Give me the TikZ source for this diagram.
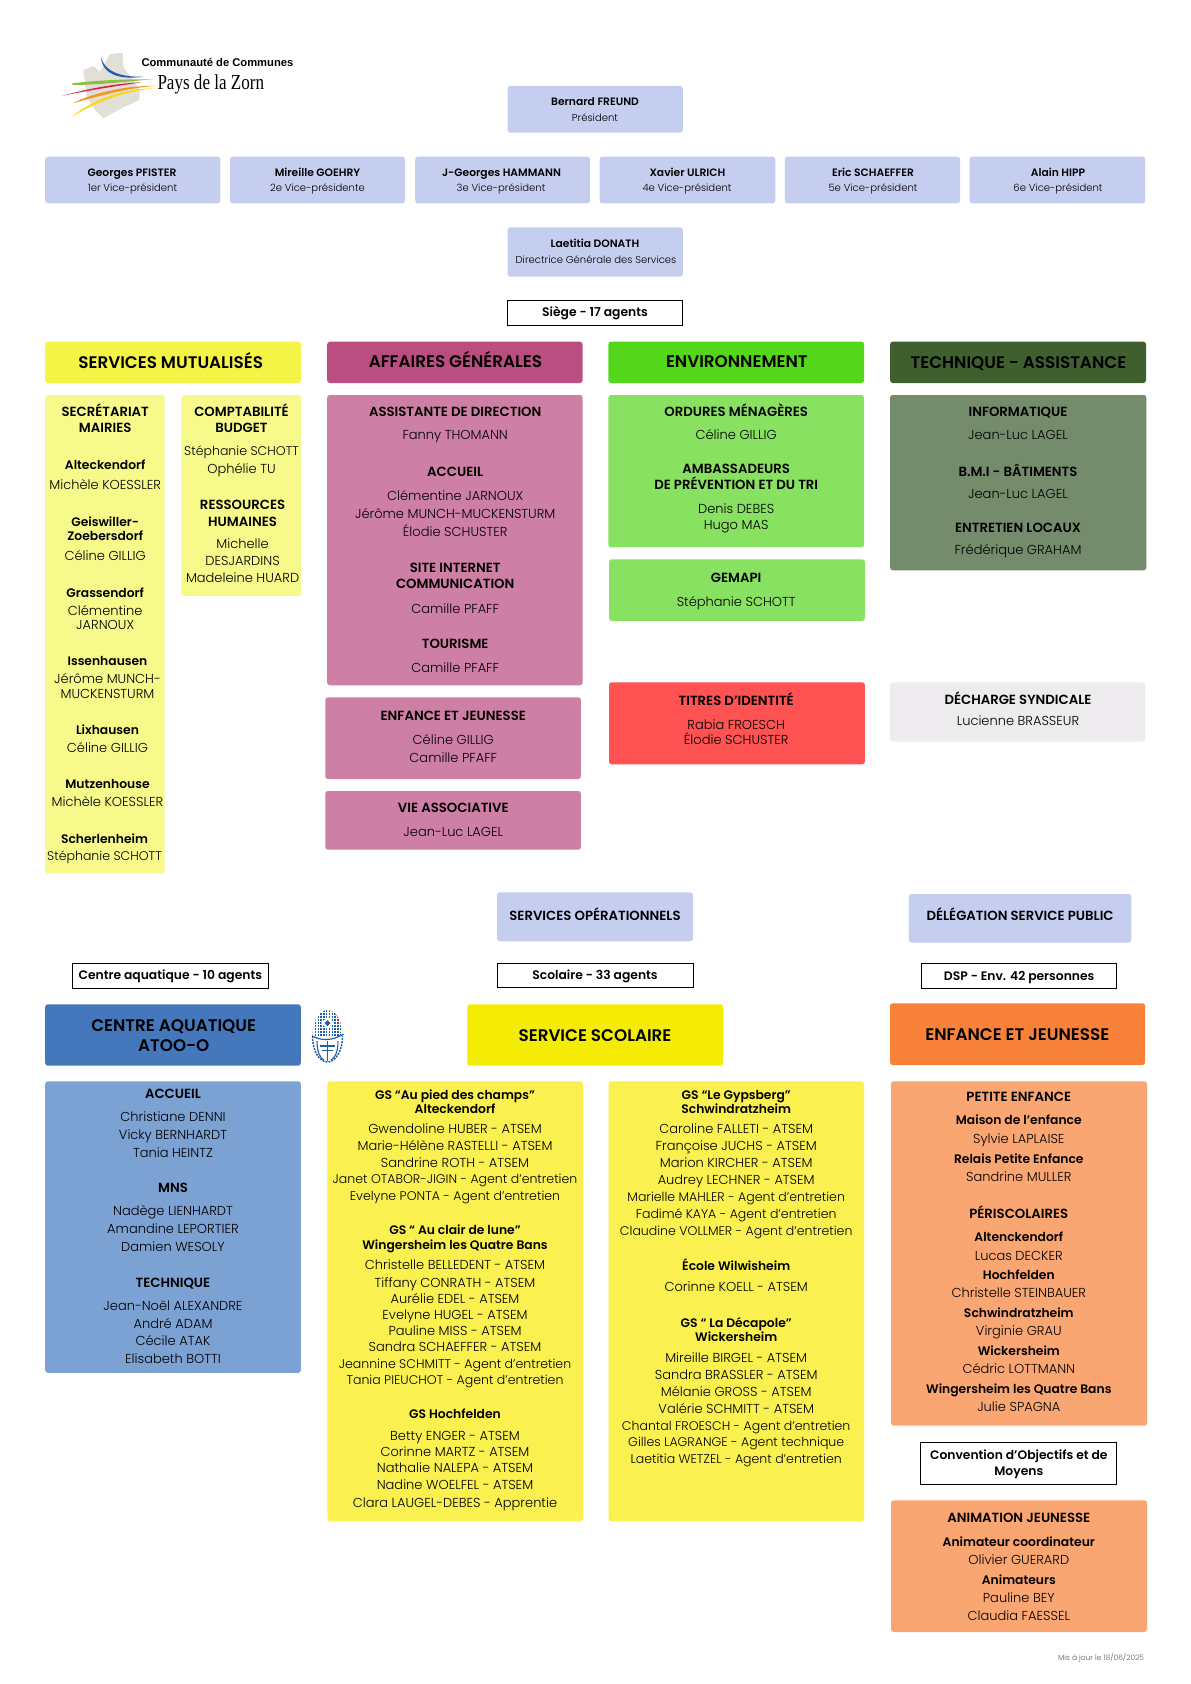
\documentclass[tikz,border=0pt]{standalone}
\usepackage{fontspec}
\setmainfont{Poppins Light}[BoldFont=Poppins SemiBold]
\newfontfamily\logosans{Liberation Sans}[BoldFont=* Bold]
\newfontfamily\logoserif{Liberation Serif}[FakeStretch=0.8]
\definecolor{cLav}{HTML}{C6CEF0}
\definecolor{cMutH}{HTML}{F4F446}
\definecolor{cMut}{HTML}{F7F98A}
\definecolor{cAgH}{HTML}{BA4E80}
\definecolor{cAg}{HTML}{CE7FA5}
\definecolor{cEnvH}{HTML}{54D61B}
\definecolor{cEnv}{HTML}{88E161}
\definecolor{cTecH}{HTML}{3F5F2F}
\definecolor{cTec}{HTML}{748C6B}
\definecolor{cRed}{HTML}{FF5252}
\definecolor{cGrey}{HTML}{EDEBED}
\definecolor{cAquaH}{HTML}{4577BD}
\definecolor{cAqua}{HTML}{7CA1D3}
\definecolor{cScolH}{HTML}{F5EC05}
\definecolor{cScol}{HTML}{FAF050}
\definecolor{cOrH}{HTML}{F8823A}
\definecolor{cOr}{HTML}{F9A672}
\definecolor{cEmb}{HTML}{1F5FA8}
\definecolor{cMap}{HTML}{E2E0D6}
\definecolor{cLgGreen}{HTML}{8CBF3F}
\definecolor{cLgRed}{HTML}{E4174F}
\definecolor{cLgOrange}{HTML}{F39A1C}
\definecolor{cLgYellow}{HTML}{F9D71C}
\newcounter{tx}
\newcommand\bx[6]{\node[boxbase,#2,minimum width={(#5-#3)*0.75pt},minimum height={(#6-#4)*0.75pt}] (#1) at (#3,#4) {};}
\newcommand\tline[4]{\stepcounter{tx}\node[#1] (t\arabic{tx}) at (#2,#3) {#4};}
\newcommand\hb[2]{\tline{bodyb}{\cx}{#1}{#2}}
\newcommand\cb[2]{\tline{capsb}{\cx}{#1}{#2}}
\newcommand\nm[2]{\tline{bodyl}{\cx}{#1}{#2}}
\newcommand\nt[2]{\tline{bodyt}{\cx}{#1}{#2}}
\begin{document}
\begin{tikzpicture}[x=0.75pt,y=-0.75pt,
  boxbase/.style={anchor=north west,inner sep=0pt,outer sep=0pt,rounded corners=2pt},
  framebox/.style={draw=black,line width=0.95pt,fill=white,rounded corners=0pt},
  txt/.style={anchor=base,inner sep=0pt,outer sep=0pt,text=black},
  bodyb/.style={txt,font=\fontsize{9.25}{11}\selectfont\bfseries,yshift=-3.4pt},
  capsb/.style={txt,font=\fontsize{9.95}{11}\selectfont\bfseries,yshift=-3.4pt},
  bodyl/.style={txt,font=\fontsize{9.75}{11}\selectfont,yshift=-3.4pt},
  bodyt/.style={txt,font=\fontsize{9.4}{11}\selectfont,yshift=-3.4pt},
  smallb/.style={txt,font=\fontsize{8.05}{10}\selectfont\bfseries,yshift=-2.9pt},
  smalll/.style={txt,font=\fontsize{7.55}{10}\selectfont,yshift=-2.8pt},
  headb/.style={txt,font=\fontsize{12.6}{14}\selectfont\bfseries,yshift=-4.4pt},
]
\useasboundingbox (0,0) rectangle (1190,1684);
% ---------- logo
\fill[cMap] (83.3,70) -- (93.3,66) -- (100,71.7) -- (110,54) -- (122.7,52.7) -- (123.3,66.7) -- (140,90) -- (139.3,100) -- (123.3,107.3) -- (103.3,118.3) -- (95,110) -- (86.7,96.7) -- cycle;
\fill[cEmb] (101,56.7) .. controls (105,74) and (125,77) .. (143.3,76.7) .. controls (125,79.5) and (102,77) .. (101,56.7) -- cycle;
\fill[cLgGreen] (72.3,83.3) .. controls (100,80) and (130,79) .. (154,79.3) .. controls (130,81) and (100,85) .. (72.3,85) -- cycle;
\fill[cLgRed] (62.7,95.7) .. controls (90,88) and (120,83) .. (141.7,82.3) .. controls (120,85.5) and (90,90) .. (62.7,95.7) -- cycle;
\fill[cLgOrange] (72.3,103.3) .. controls (95,92) and (130,85) .. (156.7,86) .. controls (130,87) and (100,96) .. (72.3,103.3) -- cycle;
\fill[cLgYellow] (70.7,117.3) .. controls (95,98) and (125,88.5) .. (155,88.3) .. controls (125,90.5) and (95,103) .. (70.7,117.3) -- cycle;
\node[txt,anchor=base west,font=\logosans\fontsize{8.4}{9}\selectfont\bfseries] (logoA) at (141.5,66.7) {Communauté de Communes};
\node[txt,anchor=base west,font=\logoserif\fontsize{16}{17}\selectfont] (logoB) at (157.5,89.5) {Pays de la Zorn};
% ---------- direction
\bx{pres}{fill=cLav}{507.5}{86}{682.8}{132.7}
\bx{vpa}{fill=cLav}{45.2}{156.7}{220.4}{203.3}
\bx{vpb}{fill=cLav}{230}{156.7}{404.9}{203.3}
\bx{vpc}{fill=cLav}{415.2}{156.7}{590.1}{203.3}
\bx{vpd}{fill=cLav}{599.5}{156.7}{775.3}{203.3}
\bx{vpe}{fill=cLav}{784.8}{156.7}{960.1}{203.3}
\bx{vpf}{fill=cLav}{969.5}{156.7}{1145.2}{203.3}
\bx{dgs}{fill=cLav}{507.5}{227.3}{682.8}{276.7}
\bx{siege}{framebox}{507.5}{300.3}{682.8}{325.3}
\tline{smallb}{595}{101.7}{Bernard FREUND}
\tline{smalll}{595}{117.3}{Président}
\tline{smallb}{132}{172.7}{Georges PFISTER}\tline{smalll}{132.5}{187.7}{1er Vice-président}
\tline{smallb}{317.5}{172.7}{Mireille GOEHRY}\tline{smalll}{317.5}{187.7}{2e Vice-présidente}
\tline{smallb}{501.5}{172.7}{J-Georges HAMMANN}\tline{smalll}{501}{187.7}{3e Vice-président}
\tline{smallb}{687.5}{172.7}{Xavier ULRICH}\tline{smalll}{687}{187.7}{4e Vice-président}
\tline{smallb}{873}{172.7}{Eric SCHAEFFER}\tline{smalll}{873}{187.7}{5e Vice-président}
\tline{smallb}{1058}{172.7}{Alain HIPP}\tline{smalll}{1058}{187.7}{6e Vice-président}
\tline{smallb}{595}{243.7}{Laetitia DONATH}
\tline{smalll}{596}{259.3}{Directrice Générale des Services}
\tline{bodyb}{595}{312}{Siège - 17 agents}
% ---------- header row
\bx{hmut}{fill=cMutH}{45.2}{341.7}{300.8}{383}
\bx{hag}{fill=cAgH}{327.2}{341.7}{582.5}{383}
\bx{henv}{fill=cEnvH}{608.3}{341.7}{864.1}{383}
\bx{htec}{fill=cTecH}{890.1}{341.7}{1146}{383}
\tline{headb}{170.7}{362.7}{SERVICES MUTUALISÉS}
\tline{headb}{455.4}{361.7}{AFFAIRES GÉNÉRALES}
\tline{headb}{736.8}{361.7}{ENVIRONNEMENT}
\tline{headb}{1018.4}{362.7}{TECHNIQUE - ASSISTANCE}
% ---------- services mutualises
\bx{secr}{fill=cMut}{45.2}{395}{164.6}{873.7}
\bx{compta}{fill=cMut}{181.4}{395}{301.2}{596}
\def\cx{105.2}
\cb{411.7}{SECRÉTARIAT}\cb{427.7}{MAIRIES}
\hb{464.7}{Alteckendorf}\nm{484.7}{Michèle KOESSLER}
\hb{522}{Geiswiller-}\hb{535.7}{Zoebersdorf}\nm{555.7}{Céline GILLIG}
\hb{592.7}{Grassendorf}\nm{611}{Clémentine}\nm{624.7}{JARNOUX}
\def\cx{107.5}
\hb{661}{Issenhausen}\nm{678.7}{Jérôme MUNCH-}\nm{693.7}{MUCKENSTURM}
\hb{730}{Lixhausen}\nm{747.7}{Céline GILLIG}
\hb{784}{Mutzenhouse}\nm{801.7}{Michèle KOESSLER}
\def\cx{104.5}
\hb{839}{Scherlenheim}\nt{855.7}{Stéphanie SCHOTT}
\def\cx{241.5}
\cb{411.7}{COMPTABILITÉ}\cb{427.7}{BUDGET}
\nt{450.7}{Stéphanie SCHOTT}\nm{468.7}{Ophélie TU}
\def\cx{242.6}
\cb{504.7}{RESSOURCES}\cb{521.7}{HUMAINES}
\nm{543.7}{Michelle}\nm{560.7}{DESJARDINS}\nm{577.7}{Madeleine HUARD}
% ---------- affaires generales
\bx{ag}{fill=cAg}{327.2}{395}{582.5}{685.3}
\bx{agej}{fill=cAg}{325.3}{697.3}{580.9}{779}
\bx{agva}{fill=cAg}{325.3}{791}{580.9}{849.7}
\def\cx{455.2}
\cb{411.7}{ASSISTANTE DE DIRECTION}\nm{434.7}{Fanny THOMANN}
\cb{471.7}{ACCUEIL}\nm{495.7}{Clémentine JARNOUX}\nm{513.7}{Jérôme MUNCH-MUCKENSTURM}\nm{531.7}{Élodie SCHUSTER}
\cb{567.7}{SITE INTERNET}\cb{583.7}{COMMUNICATION}\nm{608.7}{Camille PFAFF}
\cb{643.7}{TOURISME}\nm{667.7}{Camille PFAFF}
\def\cx{453.3}
\cb{715.7}{ENFANCE ET JEUNESSE}\nm{739.7}{Céline GILLIG}\nm{757.7}{Camille PFAFF}
\cb{807.7}{VIE ASSOCIATIVE}\nm{831.7}{Jean-Luc LAGEL}
% ---------- environnement
\bx{envA}{fill=cEnv}{608.3}{395}{864.1}{547.3}
\bx{envB}{fill=cEnv}{609}{559.3}{864.9}{621}
\bx{titres}{fill=cRed}{609}{682.3}{864.9}{764.3}
\def\cx{736.2}
\cb{411.7}{ORDURES MÉNAGÈRES}\nm{434.7}{Céline GILLIG}
\cb{468.7}{AMBASSADEURS}\cb{484.7}{DE PRÉVENTION ET DU TRI}\nm{508.7}{Denis DEBES}\nm{524.7}{Hugo MAS}
\cb{577.7}{GEMAPI}\nm{601.7}{Stéphanie SCHOTT}
\cb{700.7}{TITRES D’IDENTITÉ}\nm{724.7}{Rabia FROESCH}\nm{739.7}{Élodie SCHUSTER}
% ---------- technique
\bx{tec}{fill=cTec}{890.1}{395}{1146.4}{570.3}
\bx{dech}{fill=cGrey}{890.1}{682.3}{1145.2}{741.7}
\def\cx{1018}
\cb{411.7}{INFORMATIQUE}\nm{434.7}{Jean-Luc LAGEL}
\cb{471.7}{B.M.I - BÂTIMENTS}\nm{493.7}{Jean-Luc LAGEL}
\cb{527.7}{ENTRETIEN LOCAUX}\nm{549.7}{Frédérique GRAHAM}
\cb{699.7}{DÉCHARGE SYNDICALE}\nm{720.7}{Lucienne BRASSEUR}
% ---------- services operationnels
\bx{servop}{fill=cLav}{497.1}{892.3}{692.9}{941.3}
\bx{deleg}{fill=cLav}{908.9}{894}{1131.3}{942.7}
\tline{capsb}{595}{915.7}{SERVICES OPÉRATIONNELS}
\tline{capsb}{1020.1}{916.3}{DÉLÉGATION SERVICE PUBLIC}
\bx{fca}{framebox}{72.3}{963.3}{268.7}{988.3}
\bx{fsc}{framebox}{497.5}{963.3}{693.3}{987.7}
\bx{fds}{framebox}{921.3}{963.3}{1116.6}{988.3}
\tline{bodyb}{170.3}{975}{Centre aquatique - 10 agents}
\tline{bodyb}{595}{975}{Scolaire - 33 agents}
\tline{bodyb}{1019.2}{975.7}{DSP - Env. 42 personnes}
\bx{haq}{fill=cAquaH}{45.2}{1004.3}{300.8}{1065.7}
\bx{hsc}{fill=cScolH}{467.3}{1004.3}{723}{1065.7}
\bx{hej}{fill=cOrH}{890}{1003.3}{1145.2}{1065}
\tline{headb}{173.7}{1025.7}{CENTRE AQUATIQUE}
\tline{headb}{173.7}{1045.7}{ATOO-O}
\tline{headb}{595}{1035.7}{SERVICE SCOLAIRE}
\tline{headb}{1017.3}{1034.7}{ENFANCE ET JEUNESSE}
% ---------- emblem
\begin{scope}[cEmb]
\begin{scope}
\clip (327.5,1036) ellipse [x radius=15,y radius=26];
\foreach \yy in {1011,1014,...,1035} {\draw[line width=1.5pt,dash pattern=on 1.1pt off 1pt] (312,\yy) -- (343,\yy);}
\fill[white] (327.5,1017) -- (334,1023) -- (327.5,1029) -- (321,1023) -- cycle;
\fill (327.5,1020) -- (330.5,1023) -- (327.5,1026) -- (324.5,1023) -- cycle;
\end{scope}
\draw[line width=1.1pt,dash pattern=on 1.5pt off 0.8pt] (312.5,1036) .. controls (312.5,1052) and (320,1062) .. (327.5,1062) .. controls (335,1062) and (342.5,1052) .. (342.5,1036);
\draw[line width=0.9pt] (312,1036) .. controls (322,1041) and (332,1041) .. (343.5,1034);
\draw[line width=1pt] (327.5,1041) -- (327.5,1061) (320,1046) -- (335,1046) (322,1050.5) -- (333,1050.5);
\draw[line width=0.8pt] (317,1041) .. controls (317,1052) and (320,1058) .. (324,1060);
\draw[line width=0.8pt] (338,1041) .. controls (338,1052) and (335,1058) .. (331,1060);
\fill[cLgGreen] (335.7,1014.7) rectangle +(1,1.5);
\fill[red] (338,1019.7) rectangle +(1,1.5);
\fill[orange] (339.7,1025) rectangle +(1,1.3);
\fill[yellow] (340.3,1030.3) rectangle +(1,1.5);
\end{scope}
% ---------- centre aquatique
\bx{aq}{fill=cAqua}{45.2}{1081.3}{300.8}{1372.8}
\def\cx{173}
\cb{1093.7}{ACCUEIL}\nm{1116.7}{Christiane DENNI}\nm{1134.7}{Vicky BERNHARDT}\nm{1152.7}{Tania HEINTZ}
\cb{1187.7}{MNS}\nm{1210.7}{Nadège LIENHARDT}\nm{1228.7}{Amandine LEPORTIER}\nm{1246.7}{Damien WESOLY}
\cb{1282.7}{TECHNIQUE}\nm{1305.7}{Jean-Noël ALEXANDRE}\nm{1324.2}{André ADAM}\nm{1340.7}{Cécile ATAK}\nm{1358.7}{Elisabeth BOTTI}
% ---------- scolaire
\bx{scA}{fill=cScol}{327.4}{1081.3}{583}{1521.3}
\bx{scB}{fill=cScol}{608.5}{1081.3}{864.1}{1521.3}
\def\cx{455}
\hb{1095}{GS “Au pied des champs”}\hb{1109}{Alteckendorf}
\nm{1128.7}{Gwendoline HUBER - ATSEM}\nm{1145.7}{Marie-Hélène RASTELLI - ATSEM}\nm{1162.7}{Sandrine ROTH - ATSEM}\nt{1179}{Janet OTABOR-JIGIN - Agent d’entretien}\nt{1196}{Evelyne PONTA - Agent d’entretien}
\hb{1229.7}{GS “ Au clair de lune”}\hb{1245}{Wingersheim les Quatre Bans}
\nm{1264.7}{Christelle BELLEDENT - ATSEM}\nm{1282.7}{Tiffany CONRATH - ATSEM}\nm{1299}{Aurélie EDEL - ATSEM}\nm{1314.7}{Evelyne HUGEL - ATSEM}\nm{1330.7}{Pauline MISS - ATSEM}\nm{1346.7}{Sandra SCHAEFFER - ATSEM}\nt{1364}{Jeannine SCHMITT - Agent d’entretien}\nt{1380}{Tania PIEUCHOT - Agent d’entretien}
\hb{1414}{GS Hochfelden}
\nm{1436}{Betty ENGER - ATSEM}\nm{1452}{Corinne MARTZ - ATSEM}\nm{1468}{Nathalie NALEPA - ATSEM}\nm{1484.7}{Nadine WOELFEL - ATSEM}\nm{1502.5}{Clara LAUGEL-DEBES - Apprentie}
\def\cx{736.2}
\hb{1095}{GS “Le Gypsberg”}\hb{1109}{Schwindratzheim}
\nm{1128.7}{Caroline FALLETI - ATSEM}\nm{1145.7}{Françoise JUCHS - ATSEM}\nm{1162.7}{Marion KIRCHER - ATSEM}\nm{1179.7}{Audrey LECHNER - ATSEM}\nt{1196.7}{Marielle MAHLER - Agent d’entretien}\nt{1213.7}{Fadimé KAYA - Agent d’entretien}\nt{1230.7}{Claudine VOLLMER - Agent d’entretien}
\hb{1265.7}{École Wilwisheim}\nm{1286.7}{Corinne KOELL - ATSEM}
\hb{1322.7}{GS “ La Décapole”}\hb{1336.7}{Wickersheim}
\nm{1357.7}{Mireille BIRGEL - ATSEM}\nm{1374.7}{Sandra BRASSLER - ATSEM}\nm{1391.7}{Mélanie GROSS - ATSEM}\nm{1408.7}{Valérie SCHMITT - ATSEM}\nt{1425.7}{Chantal FROESCH - Agent d’entretien}\nt{1442}{Gilles LAGRANGE - Agent technique}\nt{1459}{Laetitia WETZEL - Agent d’entretien}
% ---------- enfance jeunesse
\bx{ejA}{fill=cOr}{891}{1081.3}{1147}{1425.7}
\bx{conv}{framebox}{920.3}{1442.3}{1116.7}{1484.3}
\bx{ejB}{fill=cOr}{891}{1500.3}{1147}{1632}
\def\cx{1018.8}
\cb{1096.7}{PETITE ENFANCE}\hb{1119.7}{Maison de l’enfance}\nm{1138.7}{Sylvie LAPLAISE}\hb{1158.7}{Relais Petite Enfance}\nm{1176.7}{Sandrine MULLER}
\cb{1213.7}{PÉRISCOLAIRES}\hb{1236.7}{Altenckendorf}\nm{1255.7}{Lucas DECKER}\hb{1274.7}{Hochfelden}\nm{1292.7}{Christelle STEINBAUER}\hb{1313}{Schwindratzheim}\nm{1331}{Virginie GRAU}\hb{1350.7}{Wickersheim}\nm{1368.7}{Cédric LOTTMANN}\hb{1389}{Wingersheim les Quatre Bans}\nm{1407}{Julie SPAGNA}
\hb{1455}{Convention d’Objectifs et de}\hb{1471}{Moyens}
\cb{1518}{ANIMATION JEUNESSE}\hb{1542}{Animateur coordinateur}\nm{1559.7}{Olivier GUERARD}\hb{1580}{Animateurs}\nm{1597.7}{Pauline BEY}\nm{1615.7}{Claudia FAESSEL}
\node[txt,anchor=base east,text=black!65,font=\fontsize{5.6}{7}\selectfont] (maj) at (1144,1660) {Mis à jour le 18/06/2025};
\end{tikzpicture}
\end{document}
